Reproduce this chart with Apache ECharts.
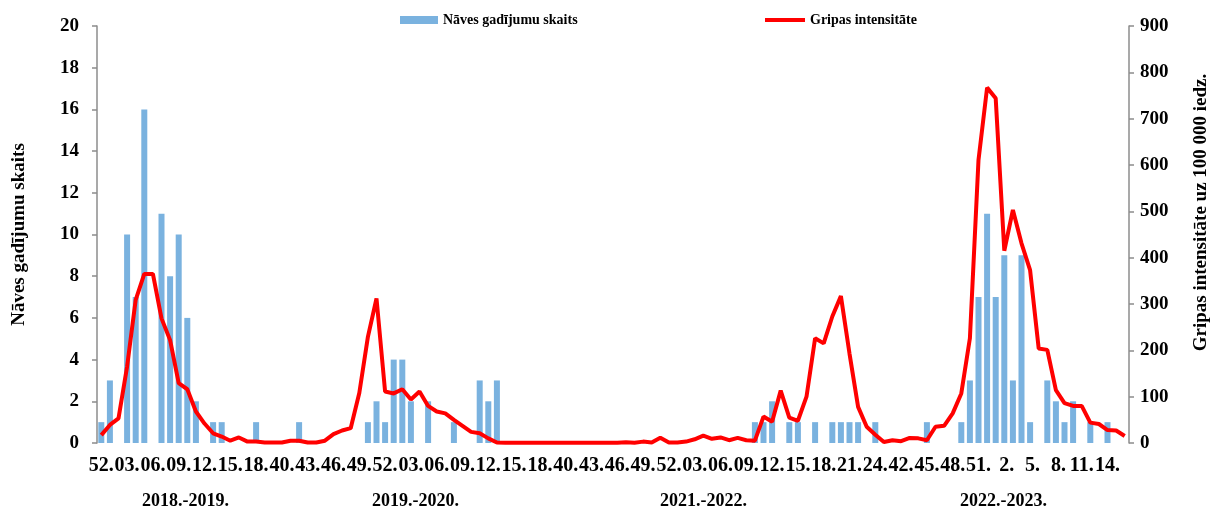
<!DOCTYPE html>
<html><head><meta charset="utf-8">
<script src="https://cdn.jsdelivr.net/npm/echarts@6/dist/echarts.min.js"></script>
<style>html,body{margin:0;padding:0;background:#fff}#c{width:1219px;height:511px}</style>
</head><body><div id="c"></div>
<script>
// Week labels (x categories)
const weekLabels = [
  '52.','01.','02.','03.','04.','05.','06.','07.','08.','09.','10.','11.','12.','13.','14.','15.','16.','17.','18.','19.','20.',
  '40.','41.','42.','43.','44.','45.','46.','47.','48.','49.','50.','51.','52.','01.','02.','03.','04.','05.','06.','07.','08.','09.','10.','11.','12.','13.','14.','15.','16.','17.','18.','19.','20.',
  '40.','41.','42.','43.','44.','45.','46.','47.','48.','49.','50.','51.','52.','01.','02.','03.','04.','05.','06.','07.','08.','09.','10.','11.','12.','13.','14.','15.','16.','17.','18.','19.','20.','21.','22.','23.','24.',
  '40.','41.','42.','43.','44.','45.','46.','47.','48.','49.','50.','51.','52.',' 1.',' 2.',' 3.',' 4.',' 5.',' 6.',' 7.',' 8.',' 9.','10.','11.','12.','13.','14.','15.','16.'
];
// Death counts (bars, left axis)
const deaths = [
  1,3,0,10,7,16,0,11,8,10,6,2,0,1,1,0,0,0,1,0,0,
  0,0,1,0,0,0,0,0,0,0,1,2,1,4,4,2,0,2,0,0,1,0,0,3,2,3,0,0,0,0,0,0,0,
  0,0,0,0,0,0,0,0,0,0,0,0,0,0,0,0,0,0,0,0,0,0,1,1,2,0,1,1,0,1,0,1,1,1,1,0,1,
  0,0,0,0,0,1,0,0,0,1,3,7,11,7,9,3,9,1,0,3,2,1,2,0,1,0,1,0,0
];
// Influenza intensity per 100 000 (line, right axis)
const intensity = [
  17,39,53,165,309,365,365,269,222,129,116,68,42,21,14,5,12,3,3,1,1,
  1,5,5,1,1,5,19,27,32,108,229,312,111,107,116,94,111,80,68,64,50,37,24,21,10,1,0.5,0.5,0.5,0.5,0.5,0.5,0.5,
  0.5,0.5,0.5,0.5,0.5,0.5,0.7,1.4,0.7,3,1,11.5,1,1,3,8,16,9,12,6,11,6,5,57,46,113,55,48,100,226,215,273,317,193,78,35,18,
  2,6,4,11,10,6,35,37,64,107,226,611,767,744,415,503,431,373,204,201,114,86,80,80,44,41,28,27,15
];
const seasonNames = ['2018.-2019.','2019.-2020.','2021.-2022.','2022.-2023.'];
const leftTicks = [0,20,2];
const rightTicks = [0,900,100];

const FONT = "'Liberation Serif','Times New Roman',serif";
const chart = echarts.init(document.getElementById('c'), null, {renderer:'canvas'});
const seasonX = [190, 420, 708, 1008];
chart.setOption({
  animation:false,
  backgroundColor:'#fff',
  grid:{left:97, right:90, top:26, bottom:68, containLabel:false},
  legend:[
    {left:400, top:13, padding:0, itemWidth:38, itemHeight:8, data:[{name:'Nāves gadījumu skaits', icon:'rect'}],
     textStyle:{fontFamily:FONT, fontWeight:'bold', fontSize:14, color:'#000'}},
    {left:765, top:13, padding:0, itemWidth:40, itemHeight:4, data:[{name:'Gripas intensitāte', icon:'rect'}],
     textStyle:{fontFamily:FONT, fontWeight:'bold', fontSize:14, color:'#000'}}
  ],
  xAxis:{
    type:'category', data:weekLabels, boundaryGap:true,
    axisLine:{show:false}, axisTick:{show:false},
    axisLabel:{interval:2, margin:13, hideOverlap:false, fontFamily:FONT, fontWeight:'bold', fontSize:20, color:'#000'}
  },
  yAxis:[
    {type:'value', min:leftTicks[0], max:leftTicks[1], interval:leftTicks[2],
     name:'Nāves gadījumu skaits', nameLocation:'middle', nameGap:68, nameRotate:90,
     nameTextStyle:{fontFamily:FONT, fontWeight:'bold', fontSize:19, color:'#000'},
     axisLine:{show:true, lineStyle:{color:'#8c8c8c', width:1.5}},
     axisTick:{show:true, length:5, lineStyle:{color:'#8c8c8c', width:1.5}},
     splitLine:{show:false},
     axisLabel:{margin:18, fontFamily:FONT, fontWeight:'bold', fontSize:19, color:'#000'}},
    {type:'value', min:rightTicks[0], max:rightTicks[1], interval:rightTicks[2], position:'right',
     name:'Gripas intensitāte uz 100 000 iedz.', nameLocation:'middle', nameGap:63, nameRotate:90,
     nameTextStyle:{fontFamily:FONT, fontWeight:'bold', fontSize:19, color:'#000', padding:[0,0,0,44]},
     axisLine:{show:true, lineStyle:{color:'#8c8c8c', width:1.5}},
     axisTick:{show:true, length:5, lineStyle:{color:'#8c8c8c', width:1.5}},
     splitLine:{show:false},
     axisLabel:{margin:11, fontFamily:FONT, fontWeight:'bold', fontSize:19, color:'#000'}}
  ],
  series:[
    {name:'Nāves gadījumu skaits', type:'bar', yAxisIndex:0, data:deaths, barWidth:6,
     itemStyle:{color:'#7AB2DF'}},
    {name:'Gripas intensitāte', type:'line', yAxisIndex:1, data:intensity, showSymbol:false, symbol:'none',
     lineStyle:{color:'#FF0000', width:4}, itemStyle:{color:'#FF0000'}, z:3}
  ],
  graphic: seasonNames.map((s,i)=>({type:'text', left:seasonX[i]-48, top:492,
     style:{text:s, fontFamily:FONT, fontWeight:'bold', fontSize:18, fill:'#000'}}))
});
</script></body></html>
